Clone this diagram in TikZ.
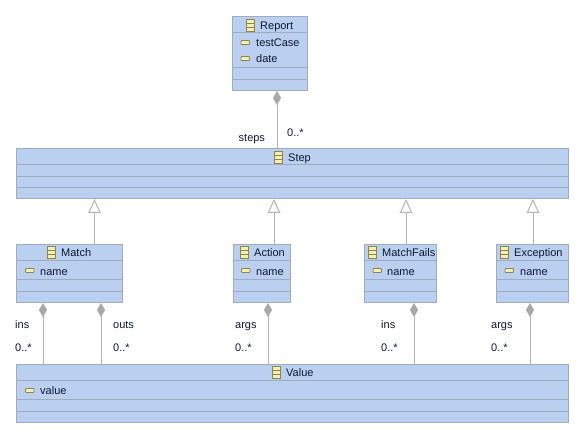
\documentclass[tikz,border=0pt]{standalone}
\usepackage{fontspec}
\setmainfont{Liberation Sans}
\usetikzlibrary{arrows.meta}
\definecolor{boxfill}{HTML}{BBD0F0}
\definecolor{boxline}{HTML}{A0ACBC}
\definecolor{conn}{HTML}{B4B4B4}
\definecolor{dia}{HTML}{A8A8A8}
\definecolor{iconfill}{HTML}{F6EFB0}
\definecolor{iconline}{HTML}{8A8550}
\definecolor{txt}{HTML}{101830}
\tikzset{
  umlbox/.style={draw=boxline,fill=boxfill,line width=0.9pt,inner sep=0pt,rectangle},
  divider/.style={draw=boxline,line width=0.9pt},
  lbl/.style={anchor=base west,inner sep=0pt,font=\fontsize{11}{12}\selectfont,text=txt},
  classicon/.style={draw=iconline,fill=iconfill,line width=0.9pt},
  attricon/.style={draw=iconline,fill=iconfill,line width=0.9pt,rounded corners=0.8pt},
  compose/.style={draw=conn,line width=1pt,{Diamond[length=14pt,width=8pt,fill=dia,color=dia]}-{}},
  inherit/.style={draw=conn,line width=1pt,{}-{Triangle[open,length=14pt,width=12.5pt,fill=white,color=conn]}},
}
% name, x1,y1,x2,y2, d1,d2,d3
\newcommand{\umlclass}[8]{%
  \node[umlbox,minimum width=#4pt-#2pt,minimum height=#5pt-#3pt] (#1) at ({(#2+#4)/2},{(#3+#5)/2}) {};
  \draw[divider] (#2,#6) -- (#4,#6);
  \draw[divider] (#2,#7) -- (#4,#7);
  \draw[divider] (#2,#8) -- (#4,#8);
}
% x, y centre of title row
\newcommand{\classglyph}[2]{%
  \draw[classicon] ({#1},{#2-6}) rectangle ({#1+8},{#2+6});
  \draw[iconline,line width=0.6pt] ({#1},{#2-2}) -- ({#1+8},{#2-2}) ({#1},{#2+2}) -- ({#1+8},{#2+2});
}
\newcommand{\attrglyph}[2]{%
  \draw[attricon] ({#1},{#2-2}) rectangle ({#1+8.5},{#2+2});
}
\begin{document}
\begin{tikzpicture}[x=1pt,y=-1pt]
\useasboundingbox (0,0) rectangle (586,439);
\fill[white] (0,0) rectangle (586,439);

\umlclass{Report}{232.5}{16.5}{307.5}{90.5}{32.5}{67.5}{79.5}
\umlclass{Step}{16.5}{148.5}{568.5}{198.5}{164.5}{176.5}{187.5}
\umlclass{Match}{16.5}{244.5}{122.5}{302.5}{260.5}{279.5}{291.5}
\umlclass{Action}{233.5}{244.5}{290.5}{302.5}{260.5}{279.5}{291.5}
\umlclass{MatchFails}{364.5}{244.5}{436.5}{302.5}{260.5}{279.5}{291.5}
\umlclass{Exception}{496.5}{244.5}{568.5}{302.5}{260.5}{279.5}{291.5}
\umlclass{Value}{16.5}{364.5}{568.5}{422.5}{380.5}{399.5}{411.5}

\classglyph{246}{25}
\node[lbl] (tReport) at (260,29) {Report};
\attrglyph{241}{42.5}
\node[lbl] (aTest) at (256,46.5) {testCase};
\attrglyph{241}{58.5}
\node[lbl] (aDate) at (256,62.5) {date};

\classglyph{274}{157}
\node[lbl] (tStep) at (288,161) {Step};

\classglyph{47}{252}
\node[lbl] (tMatch) at (61,256.5) {Match};
\attrglyph{25.5}{270.5}
\node[lbl] (aM) at (40,275) {name};

\classglyph{240}{252}
\node[lbl] (tAction) at (254,256.5) {Action};
\attrglyph{241.5}{270.5}
\node[lbl] (aA) at (256,275) {name};

\classglyph{368}{252}
\node[lbl] (tFails) at (382,256.5) {MatchFails};
\attrglyph{373}{270.5}
\node[lbl] (aF) at (387,275) {name};

\classglyph{500}{252}
\node[lbl] (tExc) at (514,256.5) {Exception};
\attrglyph{505}{270.5}
\node[lbl] (aE) at (520,275) {name};

\classglyph{272}{372}
\node[lbl] (tValue) at (286,376.5) {Value};
\attrglyph{25.5}{390.5}
\node[lbl] (aV) at (40,394.5) {value};

% composition
\draw[compose] ([xshift=7pt]Report.south) -- ([xshift=7pt]Report.south |- Step.north);
\draw[compose] ([xshift=-26.5pt]Match.south) -- ([xshift=-26.5pt]Match.south |- Value.north);
\draw[compose] ([xshift=31.5pt]Match.south) -- ([xshift=31.5pt]Match.south |- Value.north);
\draw[compose] ([xshift=6pt]Action.south) -- ([xshift=6pt]Action.south |- Value.north);
\draw[compose] ([xshift=13.5pt]MatchFails.south) -- ([xshift=13.5pt]MatchFails.south |- Value.north);
\draw[compose] ([xshift=-2.5pt]Exception.south) -- ([xshift=-2.5pt]Exception.south |- Value.north);

% inheritance
\draw[inherit] ([xshift=25pt]Match.north) -- ([xshift=25pt]Match.north |- Step.south);
\draw[inherit] ([xshift=12pt]Action.north) -- ([xshift=12pt]Action.north |- Step.south);
\draw[inherit] ([xshift=5.5pt]MatchFails.north) -- ([xshift=5.5pt]MatchFails.north |- Step.south);
\draw[inherit] ([xshift=0.5pt]Exception.north) -- ([xshift=0.5pt]Exception.north |- Step.south);

% role labels
\node[lbl] (l1) at (238.5,141.5) {steps};
\node[lbl] (l2) at (287,136) {0..*};
\node[lbl] (l3) at (15,328) {ins};
\node[lbl] (l4) at (15,351.5) {0..*};
\node[lbl] (l5) at (113,328) {outs};
\node[lbl] (l6) at (113,351.5) {0..*};
\node[lbl] (l7) at (235,328) {args};
\node[lbl] (l8) at (235,351.5) {0..*};
\node[lbl] (l9) at (381,328) {ins};
\node[lbl] (l10) at (381,351.5) {0..*};
\node[lbl] (l11) at (491,328) {args};
\node[lbl] (l12) at (491,351.5) {0..*};
\end{tikzpicture}
\end{document}
